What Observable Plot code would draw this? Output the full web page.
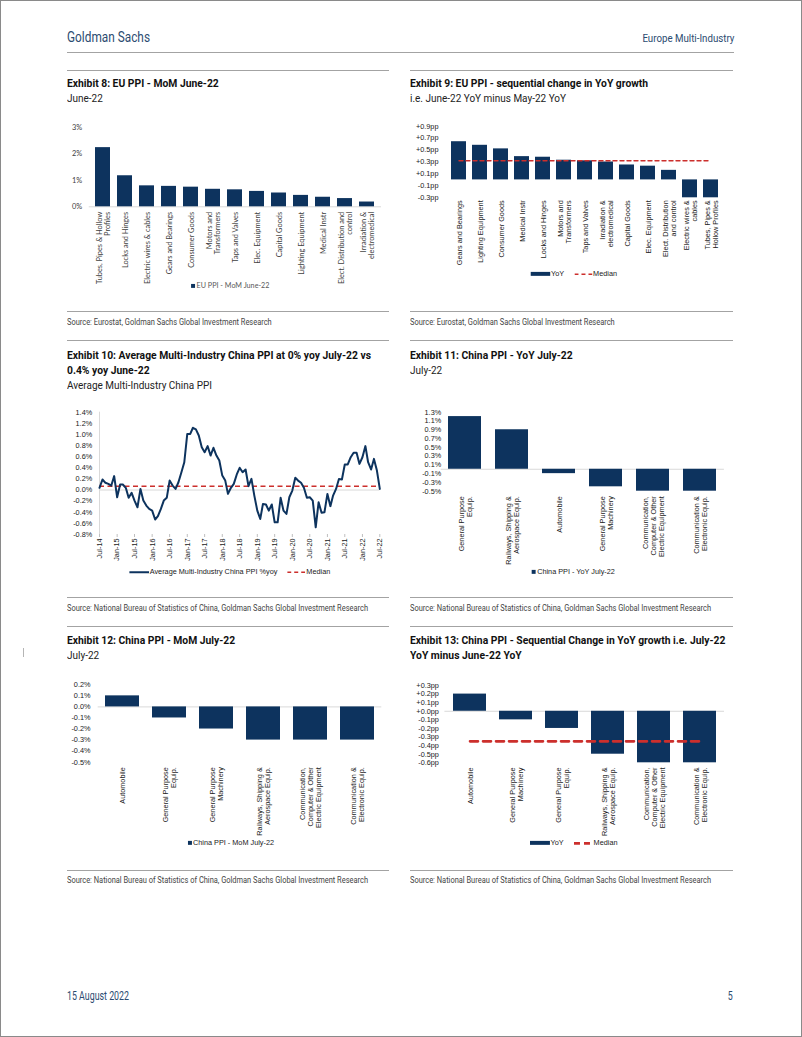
<!DOCTYPE html>
<html>
<head>
<meta charset="utf-8">
<script src="https://cdn.jsdelivr.net/npm/d3@7"></script>
<script src="https://cdn.jsdelivr.net/npm/@observablehq/plot@0.6"></script>
<style>
html,body{margin:0;padding:0;background:#fff;}
#page{position:relative;width:802px;height:1037px;overflow:hidden;background:#fff;}
#frame{position:absolute;left:0;top:0;width:802px;height:1037px;box-sizing:border-box;border:1px solid #8a8a8a;pointer-events:none;}
.t{position:absolute;white-space:nowrap;line-height:1;font-family:Roboto,"Liberation Sans",sans-serif;}
.rule{position:absolute;height:0;border-top:1.4px solid #a3a3a3;}
.chart{position:absolute;}
.chart svg{overflow:visible;}
.leg{position:absolute;display:flex;align-items:center;white-space:nowrap;transform:translate(-50%,-50%);line-height:1;}
.leg span{display:inline-block;}
</style>
</head>
<body>
<div id="page"><div id="frame"></div></div>
<script>
// ---------------- DATA ----------------
// Exhibit 8: EU PPI - MoM June-22 (%)
const ex8Cats = ["Tubes, Pipes & Hollow Profiles","Locks and Hinges","Electric wires & cables","Gears and Bearings","Consumer Goods","Motors and Transformers","Taps and Valves","Elec. Equipment","Capital Goods","Lighting Equipment","Medical Instr","Elect. Distribution and control","Irradiation & electromedical"];
const ex8Labels = ["Tubes, Pipes & Hollow\nProfiles","Locks and Hinges","Electric wires & cables","Gears and Bearings","Consumer Goods","Motors and\nTransformers","Taps and Valves","Elec. Equipment","Capital Goods","Lighting Equipment","Medical Instr","Elect. Distribution and\ncontrol","Irradiation &\nelectromedical"];
const ex8Values = [2.23,1.17,0.79,0.77,0.74,0.66,0.64,0.58,0.52,0.43,0.36,0.31,0.18];
const ex8Ticks = [0,1,2,3];

// Exhibit 9: EU PPI - sequential change in YoY growth (pp)
const ex9Cats = ["Gears and Bearings","Lighting Equipment","Consumer Goods","Medical Instr","Locks and Hinges","Motors and Transformers","Taps and Valves","Irradiation & electromedical","Capital Goods","Elec. Equipment","Elect. Distribution and control","Electric wires & cables","Tubes, Pipes & Hollow Profiles"];
const ex9Labels = ["Gears and Bearings","Lighting Equipment","Consumer Goods","Medical Instr","Locks and Hinges","Motors and\nTransformers","Taps and Valves","Irradiation &\nelectromedical","Capital Goods","Elec. Equipment","Elect. Distribution\nand control","Electric wires &\ncables","Tubes, Pipes &\nHollow Profiles"];
const ex9Values = [0.64,0.58,0.52,0.39,0.38,0.33,0.32,0.30,0.25,0.23,0.16,-0.30,-0.30];
const ex9Median = 0.32;
const ex9Ticks = [-0.3,-0.1,0.1,0.3,0.5,0.7,0.9];

// Exhibit 10: Average Multi-Industry China PPI %yoy, monthly Jul-14 .. Jul-22
const ex10Start = "Jul-14";
const ex10Values = [0.04,0.19,0.13,0.11,0.08,0.25,-0.13,0.10,0.10,0.04,-0.14,-0.05,
  -0.19,-0.31,0.02,-0.19,-0.28,-0.34,-0.37,-0.53,-0.47,-0.34,-0.19,-0.14,
  0.17,0.08,0.02,0.14,0.32,0.50,1.01,1.01,1.12,1.09,0.98,0.77,
  0.68,0.79,0.62,0.76,0.62,0.53,0.26,0.17,-0.07,0.04,0.11,0.28,
  0.40,0.32,0.37,0.07,0.20,-0.10,-0.37,-0.52,-0.25,-0.26,-0.37,-0.26,
  -0.58,-0.58,-0.14,-0.37,-0.43,-0.13,-0.01,0.22,0.17,0.13,0.04,-0.14,
  -0.13,-0.19,-0.67,-0.22,-0.41,-0.40,-0.07,-0.29,-0.10,0.02,0.20,0.19,
  0.46,0.46,0.59,0.67,0.67,0.47,0.59,0.79,0.50,0.37,0.56,0.35,0.02];
const ex10Median = 0.07;
const ex10TickLabels = ["Jul-14","Jan-15","Jul-15","Jan-16","Jul-16","Jan-17","Jul-17","Jan-18","Jul-18","Jan-19","Jul-19","Jan-20","Jul-20","Jan-21","Jul-21","Jan-22","Jul-22"];
const ex10YTicks = [-0.8,-0.6,-0.4,-0.2,0,0.2,0.4,0.6,0.8,1.0,1.2,1.4];

// Exhibit 11: China PPI - YoY July-22 (%)
const ex11Cats = ["General Purpose Equip.","Railways, Shipping & Aerospace Equip.","Automobile","General Purpose Machinery","Communication, Computer & Other Electric Equipment","Communication & Electronic Equip."];
const ex11Labels = ["General Purpose\nEquip.","Railways, Shipping &\nAerospace Equip.","Automobile","General Purpose\nMachinery","Communication,\nComputer & Other\nElectric Equipment","Communication &\nElectronic Equip."];
const ex11Values = [1.2,0.9,-0.1,-0.4,-0.5,-0.5];
const ex11Ticks = [-0.5,-0.3,-0.1,0.1,0.3,0.5,0.7,0.9,1.1,1.3];

// Exhibit 12: China PPI - MoM July-22 (%)
const ex12Cats = ["Automobile","General Purpose Equip.","General Purpose Machinery","Railways, Shipping & Aerospace Equip.","Communication, Computer & Other Electric Equipment","Communication & Electronic Equip."];
const ex12Labels = ["Automobile","General Purpose\nEquip.","General Purpose\nMachinery","Railways, Shipping &\nAerospace Equip.","Communication,\nComputer & Other\nElectric Equipment","Communication &\nElectronic Equip."];
const ex12Values = [0.1,-0.1,-0.2,-0.3,-0.3,-0.3];
const ex12Ticks = [-0.5,-0.4,-0.3,-0.2,-0.1,0,0.1,0.2];

// Exhibit 13: China PPI - sequential change in YoY growth (pp)
const ex13Cats = ["Automobile","General Purpose Machinery","General Purpose Equip.","Railways, Shipping & Aerospace Equip.","Communication, Computer & Other Electric Equipment","Communication & Electronic Equip."];
const ex13Labels = ["Automobile","General Purpose\nMachinery","General Purpose\nEquip.","Railways, Shipping &\nAerospace Equip.","Communication,\nComputer & Other\nElectric Equipment","Communication &\nElectronic Equip."];
const ex13Values = [0.2,-0.1,-0.2,-0.5,-0.6,-0.6];
const ex13Median = -0.35;
const ex13Ticks = [-0.6,-0.5,-0.4,-0.3,-0.2,-0.1,0,0.1,0.2,0.3];

// ---------------- STYLE ----------------
const NAVY = "#0d335e";
const RED = "#cc2f2c";
const HEAD = "#2b4b70";
const ARIAL = "'Liberation Sans', Arial, sans-serif";
const CALIBRI = "Lato, 'Open Sans', sans-serif";

const page = document.getElementById("page");
const groups = {};

function txt(s, x, cy, size, opts = {}) {
  const d = document.createElement("div");
  d.className = "t";
  d.textContent = s;
  d.style.fontSize = size + "px";
  d.style.top = (cy - size * 0.5) + "px";
  if (opts.right != null) { d.style.right = opts.right + "px"; d.style.transformOrigin = "right center"; }
  else { d.style.left = x + "px"; d.style.transformOrigin = "left center"; }
  d.style.color = opts.color || "#111";
  if (opts.bold) d.style.fontWeight = "bold";
  page.appendChild(d);
  const g = opts.group || "misc";
  (groups[g] = groups[g] || []).push(d);
  if (opts.target) groups[g].target = {el: d, w: opts.target};
  return d;
}
function condense() {
  for (const g of Object.values(groups)) {
    if (!g.target) continue;
    const k = g.target.w / g.target.el.getBoundingClientRect().width;
    g.forEach(el => el.style.transform = `scaleX(${k})`);
  }
}
function rule(x, y, w) {
  const d = document.createElement("div");
  d.className = "rule";
  d.style.left = x + "px"; d.style.top = y + "px"; d.style.width = w + "px";
  page.appendChild(d);
}
function swatch(type) {
  const ns = "http://www.w3.org/2000/svg";
  const s = document.createElementNS(ns, "svg");
  if (type === "square") {
    s.setAttribute("width", 5); s.setAttribute("height", 5);
    s.innerHTML = `<rect x="0.5" y="0.5" width="4" height="4" fill="${NAVY}"/>`;
  } else if (type === "thick") {
    s.setAttribute("width", 20); s.setAttribute("height", 5);
    s.innerHTML = `<rect x="0" y="0.5" width="20" height="4" fill="${NAVY}"/>`;
  } else if (type === "line") {
    s.setAttribute("width", 20); s.setAttribute("height", 4);
    s.innerHTML = `<line x1="0" x2="20" y1="2" y2="2" stroke="${NAVY}" stroke-width="2"/>`;
  } else if (type === "dash") {
    s.setAttribute("width", 18); s.setAttribute("height", 4);
    s.innerHTML = `<line x1="0" x2="18" y1="2" y2="2" stroke="${RED}" stroke-width="1.5" stroke-dasharray="4,3"/>`;
  } else if (type === "dashThick") {
    s.setAttribute("width", 19); s.setAttribute("height", 4);
    s.innerHTML = `<line x1="0" x2="19" y1="2" y2="2" stroke="${RED}" stroke-width="2.6" stroke-dasharray="6,4"/>`;
  }
  s.style.display = "block";
  return s;
}
function legend(items, cx, cy, family, size, color) {
  const d = document.createElement("div");
  d.className = "leg";
  d.style.left = cx + "px"; d.style.top = cy + "px";
  d.style.fontFamily = family; d.style.fontSize = size + "px"; d.style.color = color;
  items.forEach((it, i) => {
    const sw = swatch(it.type);
    sw.style.marginRight = "1px";
    if (i > 0) sw.style.marginLeft = "10px";
    d.appendChild(sw);
    const sp = document.createElement("span");
    sp.textContent = it.label;
    d.appendChild(sp);
  });
  page.appendChild(d);
}
function place(svg, left, top) {
  const wrap = document.createElement("div");
  wrap.className = "chart";
  wrap.style.left = left + "px"; wrap.style.top = top + "px";
  wrap.appendChild(svg);
  page.appendChild(wrap);
}

function barChart(c) {
  const data = c.cats.map((k, i) => ({cat: k, value: c.values[i]}));
  const lab = new Map(c.cats.map((k, i) => [k, c.labels[i]]));
  const marks = [];
  if (c.zero) marks.push(Plot.ruleY([0], {stroke: "#d9d9d9", strokeWidth: 1}));
  if (c.yLine) marks.push(Plot.axisY({ticks: [], line: true, stroke: "#d9d9d9", tickSize: 0}));
  marks.push(Plot.barY(data, {x: "cat", y: "value", fill: NAVY}));
  if (c.median != null) {
    marks.push(Plot.lineY([{cat: c.cats[0], v: c.median}, {cat: c.cats[c.cats.length - 1], v: c.median}],
      {x: "cat", y: "v", stroke: RED, strokeWidth: c.medianWidth || 1.5, strokeDasharray: c.dash || "4,3"}));
  }
  marks.push(Plot.axisY({ticks: c.yTicks, tickFormat: c.yFmt, tickSize: 0, tickPadding: c.yPad, fill: c.textColor, fontSize: c.fontSize}));
  marks.push(Plot.axisX({tickRotate: -90, tickSize: 0, tickPadding: c.xPad, tickFormat: d => lab.get(d), fill: c.textColor, fontSize: c.fontSize, lineHeight: 1.1}));
  const svg = Plot.plot({
    width: c.width, height: c.height,
    marginLeft: c.mL, marginRight: c.mR, marginTop: c.mT, marginBottom: c.mB,
    style: {fontFamily: c.family, fontSize: c.fontSize + "px", color: c.textColor, background: "transparent", overflow: "visible"},
    x: {domain: c.cats, paddingInner: c.pad, paddingOuter: c.pad / 2, label: null, axis: null},
    y: {domain: c.yDomain, label: null, axis: null},
    marks
  });
  place(svg, c.left, c.top);
}

// ---------------- PAGE TEXT ----------------
const TS = 11.5;
txt("Goldman Sachs", 67, 37, 14, {color: HEAD, group: "gs", target: 83});
txt("Europe Multi-Industry", 0, 39, 10.5, {color: HEAD, right: 68, group: "emi", target: 92});
rule(67, 52, 667);

const LX = 67, LW = 322, RX = 410, RW = 323;
rule(LX, 70, LW); rule(RX, 70, RW);
txt("Exhibit 8: EU PPI - MoM June-22", LX, 84, TS, {bold: true, group: "title"});
txt("June-22", LX, 99, TS, {color: "#222", group: "sub"});
txt("Exhibit 9: EU PPI - sequential change in YoY growth", RX, 84, TS, {bold: true, group: "title"});
txt("i.e. June-22 YoY minus May-22 YoY", RX, 99, TS, {color: "#222", group: "sub", target: 156});
rule(LX, 311, LW); rule(RX, 311, RW);
txt("Source: Eurostat, Goldman Sachs Global Investment Research", LX, 322, 8.5, {color: "#444", group: "src"});
txt("Source: Eurostat, Goldman Sachs Global Investment Research", RX, 322, 8.5, {color: "#444", group: "src"});

rule(LX, 340, LW); rule(RX, 340, RW);
txt("Exhibit 10: Average Multi-Industry China PPI at 0% yoy July-22 vs", LX, 356, TS, {bold: true, group: "title", target: 304});
txt("0.4% yoy June-22", LX, 371, TS, {bold: true, group: "title"});
txt("Average Multi-Industry China PPI", LX, 386, TS, {color: "#222", group: "sub"});
txt("Exhibit 11: China PPI - YoY July-22", RX, 356, TS, {bold: true, group: "title"});
txt("July-22", RX, 371, TS, {color: "#222", group: "sub"});
rule(LX, 597, LW); rule(RX, 597, RW);
txt("Source: National Bureau of Statistics of China, Goldman Sachs Global Investment Research", LX, 608, 8.5, {color: "#444", group: "src", target: 301});
txt("Source: National Bureau of Statistics of China, Goldman Sachs Global Investment Research", RX, 608, 8.5, {color: "#444", group: "src"});

rule(LX, 626, LW); rule(RX, 626, RW);
txt("Exhibit 12: China PPI - MoM July-22", LX, 641, TS, {bold: true, group: "title"});
txt("July-22", LX, 656, TS, {color: "#222", group: "sub"});
txt("Exhibit 13: China PPI - Sequential Change in YoY growth i.e. July-22", RX, 641, TS, {bold: true, group: "title"});
txt("YoY minus June-22 YoY", RX, 656, TS, {bold: true, group: "title"});
rule(LX, 870, LW); rule(RX, 870, RW);
txt("Source: National Bureau of Statistics of China, Goldman Sachs Global Investment Research", LX, 880, 8.5, {color: "#444", group: "src"});
txt("Source: National Bureau of Statistics of China, Goldman Sachs Global Investment Research", RX, 880, 8.5, {color: "#444", group: "src"});

txt("15 August 2022", 67, 996, 12, {color: HEAD, group: "foot", target: 62});
txt("5", 0, 996, 12, {color: HEAD, right: 69, group: "foot"});
(() => { const m = document.createElement("div"); m.style.cssText = "position:absolute;left:23px;top:648px;width:1px;height:9px;background:#b5b5b5"; page.appendChild(m); })();
condense();

// ---------------- CHARTS ----------------
const pct0 = d => d + "%";
const pct1 = d => d.toFixed(1) + "%";
const pp1 = d => (d >= 0 ? "+" : "") + d.toFixed(1) + "pp";

// Exhibit 8
barChart({cats: ex8Cats, labels: ex8Labels, values: ex8Values, yDomain: [0, 3], yTicks: ex8Ticks, yFmt: pct0,
  left: 67, top: 110, width: 321, height: 170, mL: 21.75, mR: 7, mT: 16.7, mB: 73.7, pad: 0.3,
  yPad: 7, xPad: 5, family: CALIBRI, fontSize: 7.4, textColor: "#404040", zero: true});
legend([{type: "square", label: "EU PPI - MoM June-22"}], 230, 285.7, CALIBRI, 7.2, "#595959");

// Exhibit 9
barChart({cats: ex9Cats, labels: ex9Labels, values: ex9Values, yDomain: [-0.3, 0.9], yTicks: ex9Ticks, yFmt: pp1,
  left: 410, top: 110, width: 324, height: 170, mL: 34.45, mR: 10.05, mT: 15.7, mB: 82.7, pad: 0.3,
  yPad: 6.5, xPad: 2.5, family: ARIAL, fontSize: 7.3, textColor: "#1a1a1a",
  median: ex9Median, medianWidth: 1.4, dash: "4,3"});
legend([{type: "thick", label: "YoY"}, {type: "dash", label: "Median"}], 573.5, 274, ARIAL, 7.3, "#1a1a1a");

// Exhibit 10 (line)
(() => {
  const parse = d3.utcParse("%b-%y");
  const start = parse(ex10Start);
  const data = ex10Values.map((v, i) => ({date: d3.utcMonth.offset(start, i), v}));
  const end = data[data.length - 1].date;
  const ticks = ex10TickLabels.map(parse);
  const svg = Plot.plot({
    width: 321, height: 170, marginLeft: 32, marginRight: 8.7, marginTop: 16.7, marginBottom: 31,
    style: {fontFamily: ARIAL, fontSize: "7.3px", color: "#1a1a1a", background: "transparent", overflow: "visible"},
    x: {type: "utc", domain: [start, end], label: null, axis: null},
    y: {domain: [-0.8, 1.4], label: null, axis: null},
    marks: [
      Plot.ruleY([0], {stroke: "#d9d9d9"}),
      Plot.ruleX([start], {stroke: "#d9d9d9"}),
      Plot.ruleY([ex10Median], {x1: start, x2: end, stroke: RED, strokeWidth: 1.5, strokeDasharray: "5,3.5"}),
      Plot.lineY(data, {x: "date", y: "v", stroke: NAVY, strokeWidth: 2}),
      Plot.axisY({ticks: ex10YTicks, tickFormat: pct1, tickSize: 0, tickPadding: 7.3, fill: "#1a1a1a"}),
      Plot.axisX({ticks, tickFormat: d3.utcFormat("%b-%y"), tickRotate: -90, tickSize: 3, tickPadding: 1, stroke: "#bfbfbf", fill: "#1a1a1a"})
    ]
  });
  place(svg, 67, 395);
})();
legend([{type: "line", label: "Average Multi-Industry China PPI %yoy"}, {type: "dash", label: "Median"}], 229.5, 572, ARIAL, 7.3, "#1a1a1a");

// Exhibit 11
barChart({cats: ex11Cats, labels: ex11Labels, values: ex11Values, yDomain: [-0.5, 1.3], yTicks: ex11Ticks, yFmt: pct1,
  left: 410, top: 395, width: 324, height: 170, mL: 30.7, mR: 10.1, mT: 16.7, mB: 74.3, pad: 0.3,
  yPad: 0, xPad: 5, family: ARIAL, fontSize: 7.3, textColor: "#1a1a1a", zero: true});
legend([{type: "square", label: "China PPI - YoY July-22"}], 573, 572, ARIAL, 7.3, "#1a1a1a");

// Exhibit 12
barChart({cats: ex12Cats, labels: ex12Labels, values: ex12Values, yDomain: [-0.5, 0.2], yTicks: ex12Ticks, yFmt: pct1,
  left: 67, top: 670, width: 321, height: 170, mL: 30.7, mR: 6.7, mT: 14.3, mB: 78.3, pad: 0.28,
  yPad: 7.7, xPad: 5, family: ARIAL, fontSize: 7.3, textColor: "#1a1a1a", zero: true, yLine: true});
legend([{type: "square", label: "China PPI - MoM July-22"}], 230.5, 843, ARIAL, 7.3, "#1a1a1a");

// Exhibit 13
barChart({cats: ex13Cats, labels: ex13Labels, values: ex13Values, yDomain: [-0.6, 0.3], yTicks: ex13Ticks, yFmt: pp1,
  left: 410, top: 670, width: 324, height: 170, mL: 34.4, mR: 10, mT: 15, mB: 77.7, pad: 0.29,
  yPad: 6, xPad: 4.7, family: ARIAL, fontSize: 7.3, textColor: "#1a1a1a", zero: true,
  median: ex13Median, medianWidth: 2.6, dash: "8,5"});
legend([{type: "thick", label: "YoY"}, {type: "dashThick", label: "Median"}], 573.5, 843, ARIAL, 7.3, "#1a1a1a");
</script>
</body>
</html>
